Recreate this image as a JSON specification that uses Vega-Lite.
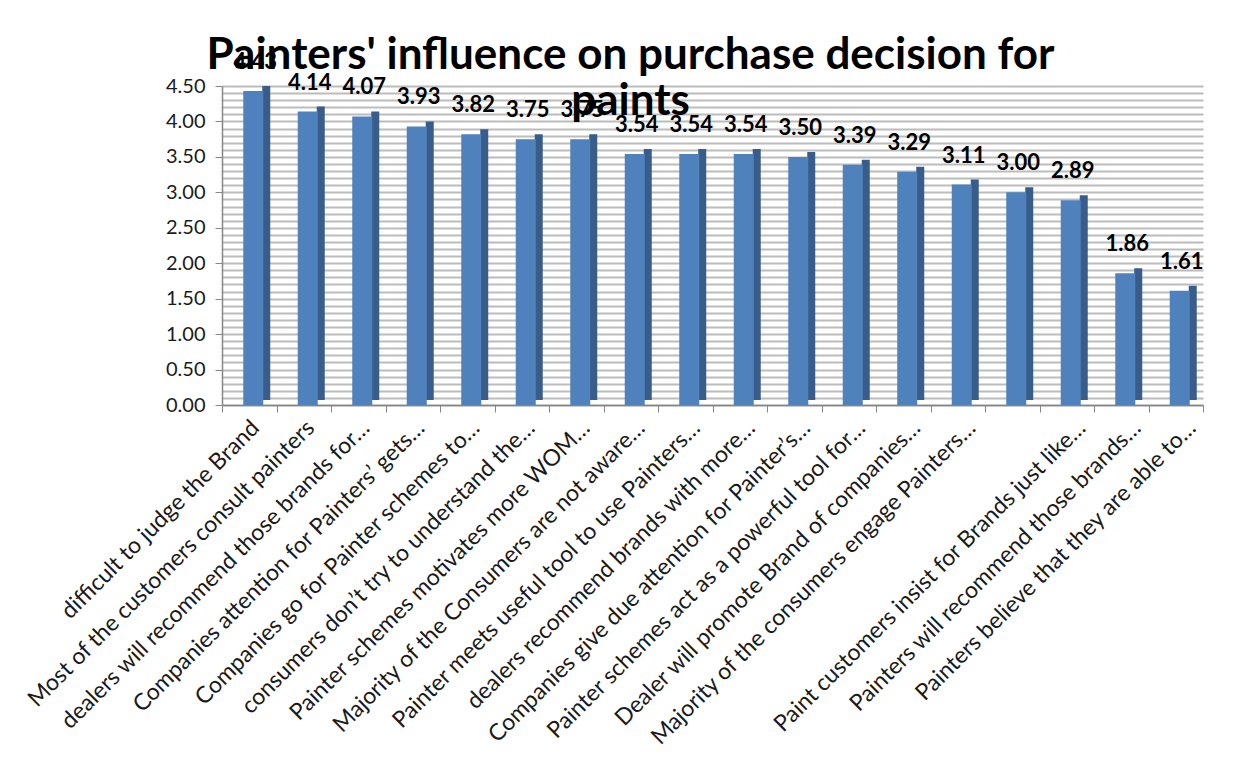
{
  "$schema": "https://vega.github.io/schema/vega-lite/v6.json",
  "autosize": {"type": "none"},
  "width": 981,
  "height": 319,
  "padding": {"left": 222, "top": 86, "right": 49, "bottom": 354},
  "background": "white",
  "title": {
    "text": ["Painters' influence on purchase decision for", "paints"],
    "font": "Lato",
    "fontSize": 44,
    "fontWeight": "bold",
    "color": "#000000",
    "anchor": "middle",
    "dx": -82,
    "lineHeight": 46,
    "baseline": "alphabetic",
    "offset": -108
  },
  "config": {
    "view": {"stroke": null},
    "font": "Lato"
  },
  "data": {
    "values": [
      {"statement": "difficult to judge the Brand", "score": 4.43},
      {"statement": "Most of the customers consult painters", "score": 4.14},
      {"statement": "dealers will recommend those brands for…", "score": 4.07},
      {"statement": "Companies attention for Painters’  gets…", "score": 3.93},
      {"statement": "Companies go for Painter schemes to…", "score": 3.82},
      {"statement": "consumers don’t try to understand the…", "score": 3.75},
      {"statement": "Painter schemes motivates more WOM…", "score": 3.75},
      {"statement": "Majority of the Consumers are not aware…", "score": 3.54},
      {"statement": "Painter meets useful tool to use Painters…", "score": 3.54},
      {"statement": "dealers  recommend brands with more…", "score": 3.54},
      {"statement": "Companies give due attention for Painter’s…", "score": 3.50},
      {"statement": "Painter schemes act as a powerful tool for…", "score": 3.39},
      {"statement": "Dealer will promote Brand of companies…", "score": 3.29},
      {"statement": "Majority of the consumers engage Painters…", "score": 3.11},
      {"statement": " ", "score": 3.00},
      {"statement": "Paint customers insist for Brands just like…", "score": 2.89},
      {"statement": "Painters will recommend those brands…", "score": 1.86},
      {"statement": "Painters believe that they are able to…", "score": 1.61}
    ]
  },
  "encoding": {
    "x": {
      "field": "statement",
      "type": "nominal",
      "sort": null,
      "title": null,
      "scale": {"paddingInner": 0, "paddingOuter": 0},
      "axis": {
        "labelAngle": -45,
        "labelAlign": "right",
        "labelBaseline": "middle",
        "labelFont": "Lato",
        "labelFontSize": 23,
        "labelColor": "#1a1a1a",
        "labelLimit": 700,
        "labelOverlap": false,
        "labelPadding": 12,
        "labelOffset": {"expr": "6 + 10 * datum.index"},
        "tickBand": "extent",
        "tickSize": 7,
        "tickColor": "#868686",
        "domainColor": "#868686",
        "domainWidth": 1.5,
        "grid": false
      }
    },
    "y": {
      "field": "score",
      "type": "quantitative",
      "title": null,
      "scale": {"domain": [0, 4.5], "nice": false},
      "axis": {
        "tickCount": 45,
        "labelExpr": "round(datum.value * 10) % 5 == 0 ? format(datum.value, '.2f') : ''",
        "labelFont": "Lato",
        "labelFontSize": 20,
        "labelColor": "#1a1a1a",
        "labelPadding": 10,
        "tickSize": 7,
        "tickColor": "#868686",
        "tickOpacity": {"expr": "round(datum.value * 10) % 5 == 0 ? 1 : 0"},
        "domainColor": "#868686",
        "domainWidth": 1.5,
        "grid": true,
        "gridColor": "#bcbcbc",
        "gridWidth": 2
      }
    }
  },
  "layer": [
    {
      "mark": {"type": "bar", "size": 8, "xOffset": 17, "yOffset": -5, "color": "#385D8A"}
    },
    {
      "mark": {"type": "bar", "size": 20, "xOffset": 4, "color": "#4F81BD"}
    },
    {
      "mark": {"type": "text", "font": "Lato", "fontSize": 22, "fontWeight": "bold", "color": "#000000", "baseline": "alphabetic", "dy": -22, "xOffset": 6},
      "encoding": {
        "text": {"field": "score", "type": "quantitative", "format": ".2f"}
      }
    }
  ]
}
